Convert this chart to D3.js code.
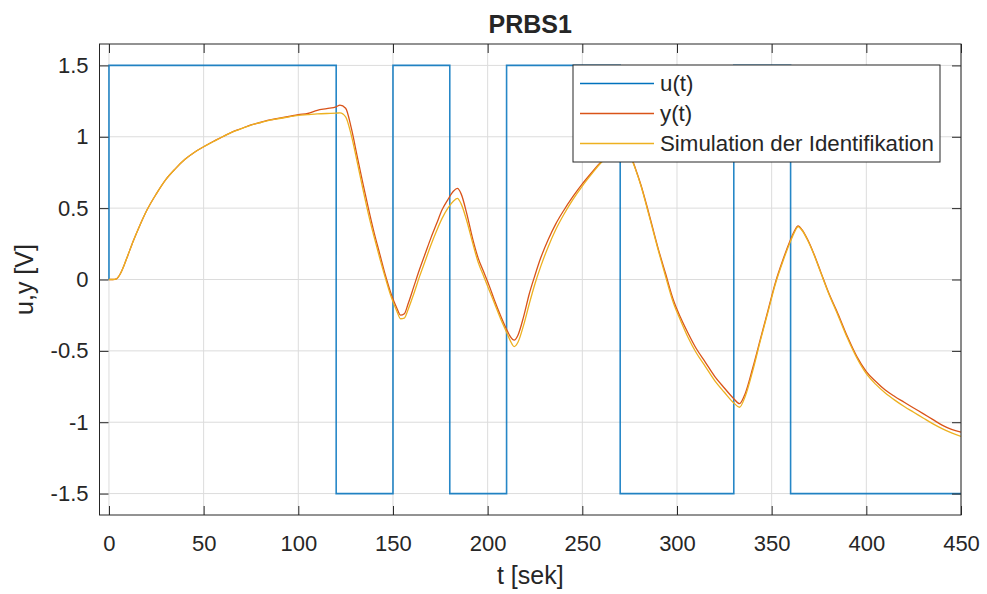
<!DOCTYPE html>
<html>
<head>
<meta charset="utf-8">
<title>PRBS1</title>
<script src="https://cdn.jsdelivr.net/npm/d3@7"></script>
<style>
    body { margin: 0; background: #fff; }
    #chart { width: 987px; height: 594px; }
    text { font-family: "Liberation Sans", Arial, Helvetica, sans-serif; fill: #262626; }
</style>
</head>
<body>
<div id="chart"></div>
<script>
// Input signal u(t): step points (held until next time)
const uTimes = [0, 0, 120, 150, 180, 210, 270, 330, 360, 450];
const uValues = [0, 1.5, -1.5, 1.5, -1.5, 1.5, -1.5, 1.5, -1.5, -1.5];

// Measured output y(t) and identified model simulation, same time grid
const yTimes = [0, 2, 4, 6, 8, 10, 13, 16, 20, 25, 30, 35, 40, 45, 50, 55, 60, 65, 70, 75,
    80, 85, 90, 95, 100, 105, 110, 115, 120, 122, 125, 128, 131, 134, 137, 140, 143, 146, 149,
    152, 154, 156, 158, 161, 164, 167, 170, 173, 176, 179, 182, 184, 186, 189, 192, 195, 198,
    201, 204, 207, 210, 212, 214, 216, 219, 222, 225, 228, 232, 236, 240, 245, 250, 255, 260,
    265, 270, 272, 275, 278, 281, 284, 287, 290, 294, 298, 302, 306, 310, 315, 320, 325, 330,
    333, 336, 340, 344, 348, 352, 356, 360, 362, 364, 366, 369, 372, 376, 380, 385, 390, 395,
    400, 405, 410, 415, 420, 425, 430, 435, 440, 445, 450];

const yMeasured = [0, 0, 0.005, 0.04, 0.10, 0.17, 0.275, 0.37, 0.485, 0.60, 0.70, 0.775, 0.84,
    0.89, 0.93, 0.967, 1.0, 1.033, 1.058, 1.083, 1.10, 1.118, 1.13, 1.142, 1.155, 1.163, 1.185,
    1.197, 1.21, 1.222, 1.20, 1.06, 0.87, 0.68, 0.50, 0.33, 0.18, 0.03, -0.10,
    -0.20, -0.25, -0.24, -0.17, -0.05, 0.07, 0.18, 0.29, 0.39, 0.49, 0.56, 0.62, 0.638, 0.60,
    0.46, 0.29, 0.15, 0.05, -0.05, -0.16, -0.26, -0.35, -0.40, -0.425, -0.39, -0.26, -0.10,
    0.03, 0.15, 0.28, 0.39, 0.48, 0.58, 0.67, 0.75, 0.825, 0.88, 0.915, 0.92, 0.88, 0.78,
    0.66, 0.52, 0.37, 0.22, 0.04, -0.14, -0.27, -0.38, -0.48, -0.58, -0.68, -0.76, -0.835,
    -0.87, -0.80, -0.62, -0.42, -0.22, -0.02, 0.14, 0.28, 0.34, 0.375, 0.35, 0.28, 0.19,
    0.05, -0.09, -0.24, -0.40, -0.54, -0.645, -0.715, -0.775, -0.82, -0.86, -0.90, -0.94,
    -0.98, -1.02, -1.05, -1.07];

const ySimulated = [0, 0, 0.005, 0.04, 0.10, 0.17, 0.275, 0.37, 0.485, 0.60, 0.70, 0.775, 0.84,
    0.89, 0.93, 0.965, 1.0, 1.032, 1.057, 1.082, 1.10, 1.117, 1.128, 1.14, 1.15, 1.155, 1.16,
    1.163, 1.165, 1.168, 1.14, 1.01, 0.83, 0.64, 0.46, 0.30, 0.15, 0.01, -0.12,
    -0.22, -0.275, -0.27, -0.21, -0.10, 0.02, 0.13, 0.24, 0.34, 0.43, 0.50, 0.55, 0.568, 0.53,
    0.41, 0.26, 0.12, 0.02, -0.08, -0.18, -0.28, -0.37, -0.43, -0.47, -0.44, -0.32, -0.17,
    -0.03, 0.09, 0.23, 0.35, 0.45, 0.56, 0.655, 0.74, 0.82, 0.875, 0.91, 0.915, 0.875, 0.775,
    0.655, 0.51, 0.36, 0.21, 0.02, -0.16, -0.29, -0.41, -0.51, -0.61, -0.71, -0.79, -0.865,
    -0.895, -0.82, -0.64, -0.43, -0.23, -0.03, 0.13, 0.27, 0.33, 0.37, 0.345, 0.275, 0.185,
    0.045, -0.095, -0.25, -0.41, -0.55, -0.66, -0.735, -0.795, -0.845, -0.89, -0.93, -0.97,
    -1.01, -1.045, -1.075, -1.10];

// Axis ticks
const xTicks = [0, 50, 100, 150, 200, 250, 300, 350, 400, 450];
const yTicks = [-1.5, -1, -0.5, 0, 0.5, 1, 1.5];
const legendLabels = ['u(t)', 'y(t)', 'Simulation der Identifikation'];

const colors = ['#0072BD', '#D95319', '#EDB120'];

function drawChart() {
    const width = 987, height = 594;
    const plot = {left: 99.5, right: 961, top: 44, bottom: 515};

    const svg = d3.select('#chart')
        .append('svg')
        .attr('width', width)
        .attr('height', height);

    const xScale = d3.scaleLinear().domain([-5, 450]).range([plot.left, plot.right]);
    const yScale = d3.scaleLinear().domain([-1.65, 1.65]).range([plot.bottom, plot.top]);

    svg.append('defs').append('clipPath')
        .attr('id', 'plot-clip')
        .append('rect')
        .attr('x', plot.left)
        .attr('y', plot.top)
        .attr('width', plot.right - plot.left)
        .attr('height', plot.bottom - plot.top);

    // Grid
    const grid = svg.append('g').attr('class', 'grid');
    grid.selectAll('.gx')
        .data(xTicks)
        .enter()
        .append('line')
        .attr('x1', d => xScale(d)).attr('x2', d => xScale(d))
        .attr('y1', plot.top).attr('y2', plot.bottom)
        .attr('stroke', '#dcdcdc').attr('stroke-width', 1);
    grid.selectAll('.gy')
        .data(yTicks)
        .enter()
        .append('line')
        .attr('x1', plot.left).attr('x2', plot.right)
        .attr('y1', d => yScale(d)).attr('y2', d => yScale(d))
        .attr('stroke', '#dcdcdc').attr('stroke-width', 1);

    const lines = svg.append('g').attr('clip-path', 'url(#plot-clip)');

    // u(t)
    const uLine = d3.line()
        .x((d, i) => xScale(uTimes[i]))
        .y(d => yScale(d))
        .curve(d3.curveStepAfter);
    lines.append('path')
        .datum(uValues)
        .attr('d', uLine)
        .attr('fill', 'none')
        .attr('stroke', colors[0])
        .attr('stroke-width', 1.6)
        .attr('stroke-opacity', 0.85);

    // y(t) and simulation
    const yLine = d3.line()
        .x((d, i) => xScale(yTimes[i]))
        .y(d => yScale(d))
        .curve(d3.curveMonotoneX);
    lines.append('path')
        .datum(yMeasured)
        .attr('d', yLine)
        .attr('fill', 'none')
        .attr('stroke', colors[1])
        .attr('stroke-width', 1.3);
    lines.append('path')
        .datum(ySimulated)
        .attr('d', yLine)
        .attr('fill', 'none')
        .attr('stroke', colors[2])
        .attr('stroke-width', 1.3);

    // Axes (MATLAB box style, ticks inside on all sides)
    const tickLen = 9;
    const axisColor = '#262626';
    const styleAxis = g => {
        g.select('.domain').remove();
        g.selectAll('.tick line').attr('stroke', axisColor);
        g.selectAll('.tick text').attr('fill', axisColor).attr('font-size', '22px');
    };

    svg.append('g')
        .attr('transform', `translate(0, ${plot.bottom})`)
        .call(d3.axisBottom(xScale).tickValues(xTicks).tickSize(-tickLen).tickPadding(20)
            .tickFormat(d3.format('d')))
        .call(styleAxis)
        .attr('font-family', null);
    svg.append('g')
        .attr('transform', `translate(0, ${plot.top})`)
        .call(d3.axisTop(xScale).tickValues(xTicks).tickSize(-tickLen).tickFormat(''))
        .call(styleAxis);
    svg.append('g')
        .attr('transform', `translate(${plot.left}, 0)`)
        .call(d3.axisLeft(yScale).tickValues(yTicks).tickSize(-tickLen).tickPadding(11)
            .tickFormat(d => String(d)))
        .call(styleAxis)
        .attr('font-family', null);
    svg.append('g')
        .attr('transform', `translate(${plot.right}, 0)`)
        .call(d3.axisRight(yScale).tickValues(yTicks).tickSize(-tickLen).tickFormat(''))
        .call(styleAxis);

    svg.append('rect')
        .attr('x', plot.left)
        .attr('y', plot.top)
        .attr('width', plot.right - plot.left)
        .attr('height', plot.bottom - plot.top)
        .attr('fill', 'none')
        .attr('stroke', axisColor)
        .attr('stroke-width', 1);

    // Labels and title
    svg.append('text')
        .attr('x', (plot.left + plot.right) / 2)
        .attr('y', 584)
        .attr('text-anchor', 'middle')
        .attr('font-size', '25px')
        .text('t [sek]');
    svg.append('text')
        .attr('transform', `translate(33, ${(plot.top + plot.bottom) / 2}) rotate(-90)`)
        .attr('text-anchor', 'middle')
        .attr('font-size', '25px')
        .text('u,y [V]');
    svg.append('text')
        .attr('x', (plot.left + plot.right) / 2)
        .attr('y', 33)
        .attr('text-anchor', 'middle')
        .attr('font-size', '25px')
        .attr('font-weight', 'bold')
        .attr('fill', '#000')
        .text('PRBS1');

    // Legend
    const legend = svg.append('g').attr('transform', 'translate(573, 65)');
    legend.append('rect')
        .attr('width', 367)
        .attr('height', 97)
        .attr('fill', '#fff')
        .attr('stroke', axisColor)
        .attr('stroke-width', 1);
    legendLabels.forEach((label, i) => {
        const cy = 18.5 + i * 30;
        legend.append('line')
            .attr('x1', 7).attr('x2', 81)
            .attr('y1', cy).attr('y2', cy)
            .attr('stroke', colors[i])
            .attr('stroke-width', 1.3);
        legend.append('text')
            .attr('x', 87)
            .attr('y', cy + 7.8)
            .attr('font-size', '22.3px')
            .text(label);
    });
}

document.addEventListener('DOMContentLoaded', drawChart);
</script>
</body>
</html>
